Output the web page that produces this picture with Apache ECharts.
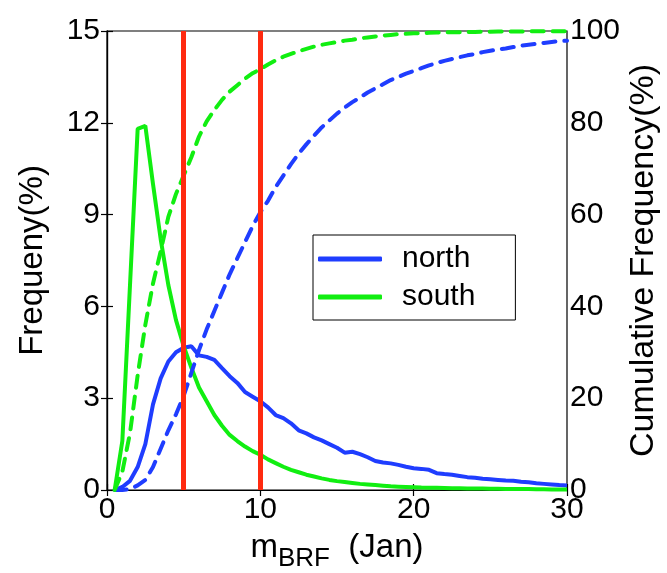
<!DOCTYPE html>
<html>
<head>
<meta charset="utf-8">
<script src="https://cdn.jsdelivr.net/npm/echarts@6/dist/echarts.min.js"></script>
<style>html,body{margin:0;padding:0;background:#fff;}#c{width:667px;height:573px;}</style>
</head>
<body>
<div id="c"></div>
<script>
// x positions (m_BRF)
const xs = [0.5,1,1.5,2,2.5,3,3.5,4,4.5,5,5.5,6,6.5,7,7.5,8,8.5,9,9.5,10,
  10.5,11,11.5,12,12.5,13,13.5,14,14.5,15,15.5,16,16.5,17,17.5,18,18.5,19,19.5,20,
  20.5,21,21.5,22,22.5,23,23.5,24,24.5,25,25.5,26,26.5,27,27.5,28,28.5,29,29.5,30];
// Frequency (%) - left axis
const northFreq = [0,0.1,0.3,0.75,1.5,2.8,3.65,4.2,4.5,4.65,4.7,4.4,4.35,4.25,3.98,3.72,3.5,3.2,3.05,2.9,
  2.7,2.45,2.35,2.18,1.95,1.85,1.72,1.62,1.5,1.38,1.22,1.25,1.17,1.07,0.95,0.9,0.87,0.82,0.76,0.71,
  0.69,0.66,0.55,0.52,0.5,0.46,0.42,0.4,0.37,0.35,0.33,0.31,0.3,0.27,0.25,0.22,0.2,0.18,0.16,0.15];
const southFreq = [0,1.6,6.7,11.8,11.9,10.0,8.2,6.7,5.55,4.7,4.0,3.35,2.9,2.45,2.1,1.8,1.6,1.42,1.27,1.15,
  1.0,0.88,0.76,0.66,0.58,0.5,0.44,0.38,0.33,0.29,0.26,0.23,0.2,0.18,0.16,0.14,0.12,0.11,0.1,0.09,
  0.08,0.075,0.07,0.065,0.06,0.055,0.05,0.05,0.045,0.04,0.04,0.035,0.03,0.03,0.03,0.025,0.025,0.02,0.02,0.02];
// Cumulative frequency (%) - right axis
const northCum = [0,0,0.2,1,2.2,5,9,13,16.5,20.5,25.5,30.5,35,39,43,47,50.5,54,57.5,60.5,
  63,66,68.5,71,73.3,75.3,77.2,79,80.5,82,83.3,84.5,85.5,86.6,87.5,88.4,89.3,90,90.7,91.3,
  91.9,92.5,93,93.5,93.9,94.3,94.7,95,95.4,95.7,96,96.2,96.5,96.8,97,97.2,97.4,97.6,97.8,97.9];
const southCum = [0,4,12.4,25,36,45,52,59.5,64.5,68.5,72.5,77,80.3,82.8,85,86.8,88.2,89.6,90.8,91.7,
  92.7,93.6,94.4,95.0,95.6,96.1,96.6,97.0,97.3,97.6,97.9,98.1,98.4,98.6,98.8,99.0,99.15,99.3,99.4,99.5,
  99.55,99.6,99.65,99.7,99.72,99.75,99.78,99.8,99.82,99.85,99.87,99.88,99.9,99.91,99.92,99.93,99.94,99.95,99.96,99.97];
// Threshold lines
const thresholds = [5, 10];

const FONT = 'Liberation Sans, Arial, Helvetica, sans-serif';
const BLUE = '#1f3dff', GREEN = '#11ee11', RED = '#ff2a10';
const pairs = arr => xs.map((x, i) => [x, arr[i]]);

const chart = echarts.init(document.getElementById('c'), null, {renderer: 'canvas'});
const axisCommon = {
  axisLine: {show: true, lineStyle: {color: '#000', width: 1.2}},
  axisTick: {show: true, inside: true, length: 6, lineStyle: {color: '#000', width: 1.2}},
  splitLine: {show: false},
  nameMoveOverlap: false
};
chart.setOption({
  animation: false,
  backgroundColor: '#fff',
  textStyle: {fontFamily: FONT},
  grid: {left: 107, right: 100, top: 31, bottom: 83, containLabel: false, outerBoundsMode: 'none',
    show: true, borderColor: '#000', borderWidth: 1.2, backgroundColor: 'transparent'},
  legend: {
    data: ['north', 'south'],
    orient: 'vertical',
    left: 313, top: 235,
    padding: [9, 40, 8, 5],
    itemGap: 8,
    itemWidth: 64, itemHeight: 5,
    icon: 'roundRect',
    borderColor: '#000', borderWidth: 1,
    backgroundColor: '#fff',
    textStyle: {fontFamily: FONT, fontSize: 30, lineHeight: 30, color: '#000', padding: [0, 0, 0, 15]}
  },
  xAxis: [
    Object.assign({}, axisCommon, {
      type: 'value', min: 0, max: 30, interval: 10, position: 'bottom',
      axisLabel: {fontSize: 30, color: '#000', margin: 5, fontFamily: FONT},
      name: '{a|m}{b|BRF}{a|  (Jan)}',
      nameLocation: 'middle', nameGap: 41,
      nameTextStyle: {rich: {
        a: {fontSize: 33, lineHeight: 33, color: '#000', fontFamily: FONT},
        b: {fontSize: 26, lineHeight: 26, color: '#000', fontFamily: FONT, padding: [22, 0, 0, 0]}
      }}
    }),
    Object.assign({}, axisCommon, {
      type: 'value', min: 0, max: 30, interval: 10, position: 'top',
      axisLabel: {show: false}
    })
  ],
  yAxis: [
    Object.assign({}, axisCommon, {
      type: 'value', min: 0, max: 15, interval: 3, position: 'left',
      axisLabel: {fontSize: 30, color: '#000', margin: 7, fontFamily: FONT},
      name: 'Frequeny(%)', nameLocation: 'middle', nameGap: 58,
      nameTextStyle: {fontSize: 33, color: '#000', fontFamily: FONT}
    }),
    Object.assign({}, axisCommon, {
      type: 'value', min: 0, max: 100, interval: 20, position: 'right',
      axisLabel: {fontSize: 30, color: '#000', margin: 3, fontFamily: FONT},
      name: 'Cumulative Frequency(%)', nameLocation: 'middle', nameGap: 60,
      nameTextStyle: {fontSize: 34, color: '#000', fontFamily: FONT}
    })
  ],
  series: [
    {
      name: 'thresholds', type: 'line', data: [], z: 1,
      markLine: {
        silent: true, symbol: 'none', label: {show: false},
        lineStyle: {color: RED, width: 5, type: 'solid'},
        data: thresholds.map(t => ({xAxis: t}))
      }
    },
    {name: 'north', type: 'line', xAxisIndex: 0, yAxisIndex: 0, data: pairs(northFreq), showSymbol: false, z: 3,
      lineStyle: {color: BLUE, width: 4}, itemStyle: {color: BLUE}},
    {name: 'south', type: 'line', xAxisIndex: 0, yAxisIndex: 0, data: pairs(southFreq), showSymbol: false, z: 3,
      lineStyle: {color: GREEN, width: 4}, itemStyle: {color: GREEN}},
    {name: 'north cumulative', type: 'line', xAxisIndex: 0, yAxisIndex: 1, data: pairs(northCum), showSymbol: false, z: 3,
      lineStyle: {color: BLUE, width: 4, type: [12, 9], cap: 'round'}, itemStyle: {color: BLUE}},
    {name: 'south cumulative', type: 'line', xAxisIndex: 0, yAxisIndex: 1, data: pairs(southCum), showSymbol: false, z: 3,
      lineStyle: {color: GREEN, width: 4, type: [12, 9], cap: 'round'}, itemStyle: {color: GREEN}}
  ]
});
</script>
</body>
</html>
